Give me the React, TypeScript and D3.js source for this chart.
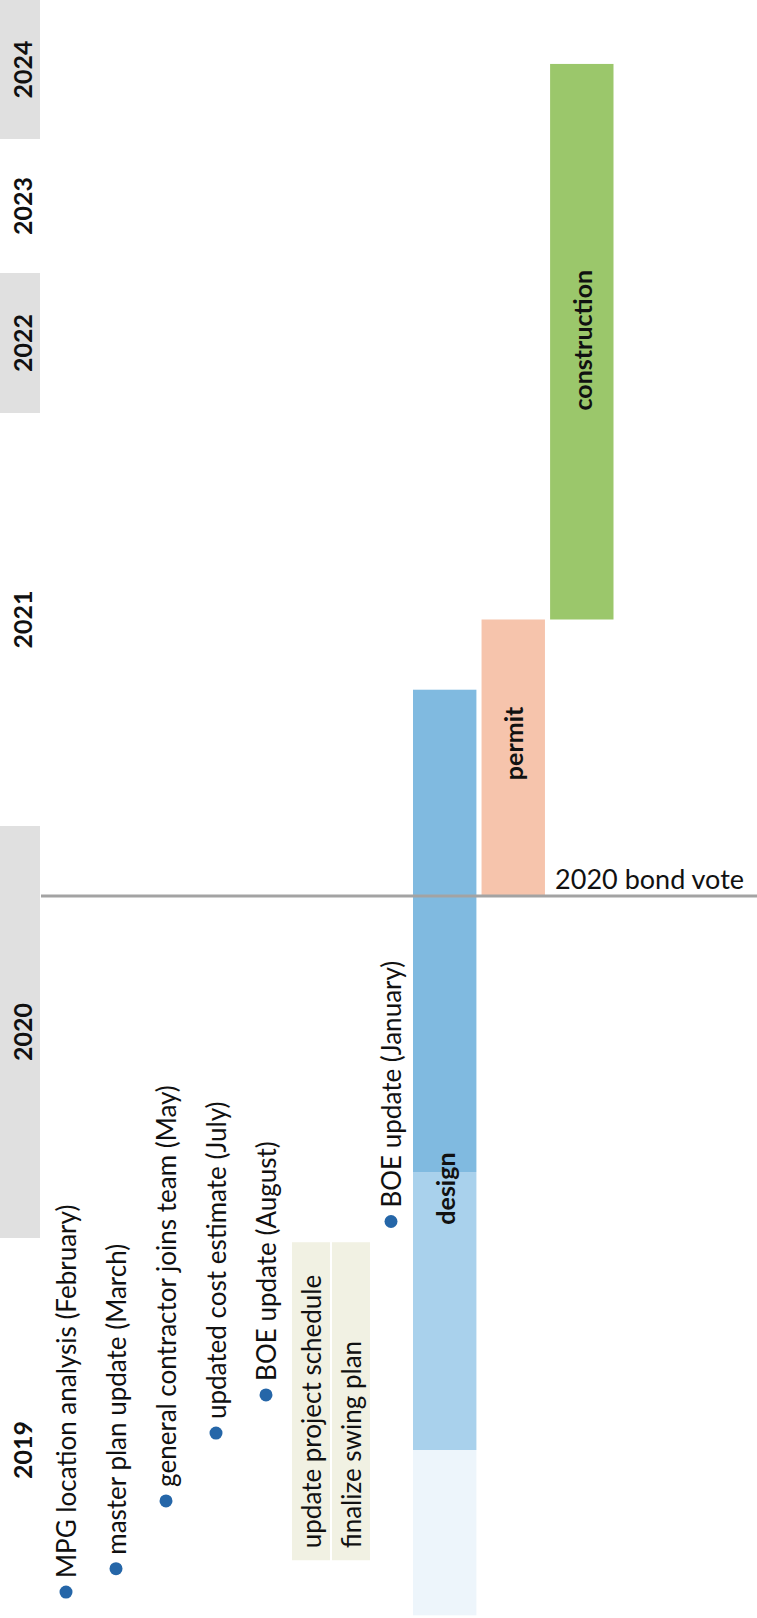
import React from "react";
import * as d3 from "d3";

// ---- data (decimal years) ----
const YEARS = [2019, 2020, 2021, 2022, 2023, 2024];
const SHADED_YEARS = [2020, 2022, 2024];

const MILESTONE_LABELS = [
  "MPG location analysis (February)",
  "master plan update (March)",
  "general contractor joins team (May)",
  "updated cost estimate (July)",
  "BOE update (August)",
  "BOE update (January)",
];
const MILESTONE_DATES = [2019.165, 2019.22, 2019.38, 2019.54, 2019.63, 2020.04];
const MILESTONE_LANES = [0, 1, 2, 3, 4, 6.5];

const NOTE_LABELS = ["update project schedule", "finalize swing plan"];
const NOTE_STARTS = [2019.24, 2019.24];
const NOTE_ENDS = [2019.99, 2019.99];
const NOTE_LANES = [4.9, 5.7];

const PHASES = ["design", "permit", "construction"];
const PHASE_STARTS = [2019.11, 2020.83, 2021.5];
const PHASE_ENDS = [2021.33, 2021.5, 2024.54];
const PHASE_LABEL_AT = [2020.12, 2021.2, 2022.52];
const PHASE_COLORS = ["#80bae0", "#f6c4ac", "#9bc76b"];

// design bar shading breaks
const DESIGN_BREAKS = [2019.11, 2019.5, 2020.16, 2021.33];
const DESIGN_SHADES = ["#edf5fb", "#a9d1ec", "#80bae0"];

const BOND_VOTE_DATE = 2020.83;
const BOND_VOTE_LABEL = "2020 bond vote";

const W = 757;
const H = 1618;

export default function App() {
  // time runs from bottom (2019) to top (2025); year spacing as in the original slide
  const y = d3
    .scaleLinear()
    .domain([2019, 2020, 2021, 2022, 2023, 2024, 2025])
    .range([1662, 1238, 826, 413, 273, 139, 0]);

  const lane = d3.scaleLinear().domain([0, 1]).range([66, 116]);
  const phaseX = d3
    .scaleBand<string>()
    .domain(PHASES)
    .range([413, 613.5])
    .paddingInner(0.075)
    .paddingOuter(0);

  const font = "Lato, 'Open Sans', sans-serif";
  const textCol = "#111";

  const rot = (x: number, yy: number) => `translate(${x},${yy}) rotate(-90)`;

  return (
    <svg
      width={W}
      height={H}
      viewBox={`0 0 ${W} ${H}`}
      style={{ position: "absolute", left: 0, top: 0, background: "#fff" }}
      fontFamily={font}
    >
      <rect x={0} y={0} width={W} height={H} fill="#fff" />

      {/* shaded year bands */}
      {SHADED_YEARS.map((yr) => (
        <rect
          key={"band" + yr}
          x={0}
          width={40}
          y={y(yr + 1)}
          height={y(yr) - y(yr + 1)}
          fill="#e0e0e0"
        />
      ))}

      {/* year labels */}
      {YEARS.map((yr) => (
        <text
          key={"yr" + yr}
          transform={rot(22, y(yr + 0.5))}
          textAnchor="middle"
          dominantBaseline="central"
          fontWeight={700}
          fontSize={25}
          fill={textCol}
        >
          {yr}
        </text>
      ))}

      {/* note boxes */}
      {NOTE_LABELS.map((lab, i) => (
        <g key={"note" + i}>
          <rect
            x={lane(NOTE_LANES[i]) - 19}
            width={38}
            y={y(NOTE_ENDS[i])}
            height={y(NOTE_STARTS[i]) - y(NOTE_ENDS[i])}
            fill="#f1f1e3"
          />
          <text
            transform={rot(lane(NOTE_LANES[i]), y(NOTE_STARTS[i]) - 12)}
            textAnchor="start"
            dominantBaseline="central"
            fontSize={26}
            fill={textCol}
          >
            {lab}
          </text>
        </g>
      ))}

      {/* milestones */}
      {MILESTONE_LABELS.map((lab, i) => {
        const cx = lane(MILESTONE_LANES[i]);
        const cy = y(MILESTONE_DATES[i]);
        return (
          <g key={"ms" + i}>
            <circle cx={cx} cy={cy} r={6.5} fill="#2566a8" />
            <text
              transform={rot(cx, cy - 14)}
              textAnchor="start"
              dominantBaseline="central"
              fontSize={26}
              fill={textCol}
            >
              {lab}
            </text>
          </g>
        );
      })}

      {/* design bar segments */}
      {DESIGN_SHADES.map((c, i) => (
        <rect
          key={"ds" + i}
          x={phaseX("design")}
          width={phaseX.bandwidth()}
          y={y(DESIGN_BREAKS[i + 1])}
          height={y(DESIGN_BREAKS[i]) - y(DESIGN_BREAKS[i + 1])}
          fill={c}
        />
      ))}

      {/* permit & construction bars */}
      {PHASES.map((p, i) =>
        i === 0 ? null : (
          <rect
            key={"ph" + p}
            x={phaseX(p)}
            width={phaseX.bandwidth()}
            y={y(PHASE_ENDS[i])}
            height={y(PHASE_STARTS[i]) - y(PHASE_ENDS[i])}
            fill={PHASE_COLORS[i]}
          />
        )
      )}

      {/* bond vote line */}
      <line
        x1={41}
        x2={W}
        y1={y(BOND_VOTE_DATE)}
        y2={y(BOND_VOTE_DATE)}
        stroke="#a3a3a3"
        strokeWidth={3}
      />
      <text
        x={(phaseX("construction") as number) + 5}
        y={y(BOND_VOTE_DATE) - 7}
        fontSize={27}
        fill={textCol}
      >
        {BOND_VOTE_LABEL}
      </text>

      {/* phase labels */}
      {PHASES.map((p, i) => (
        <text
          key={"pl" + p}
          transform={rot((phaseX(p) as number) + phaseX.bandwidth() / 2, y(PHASE_LABEL_AT[i]))}
          textAnchor="middle"
          dominantBaseline="central"
          fontWeight={700}
          fontSize={25}
          fill={textCol}
        >
          {p}
        </text>
      ))}
    </svg>
  );
}
